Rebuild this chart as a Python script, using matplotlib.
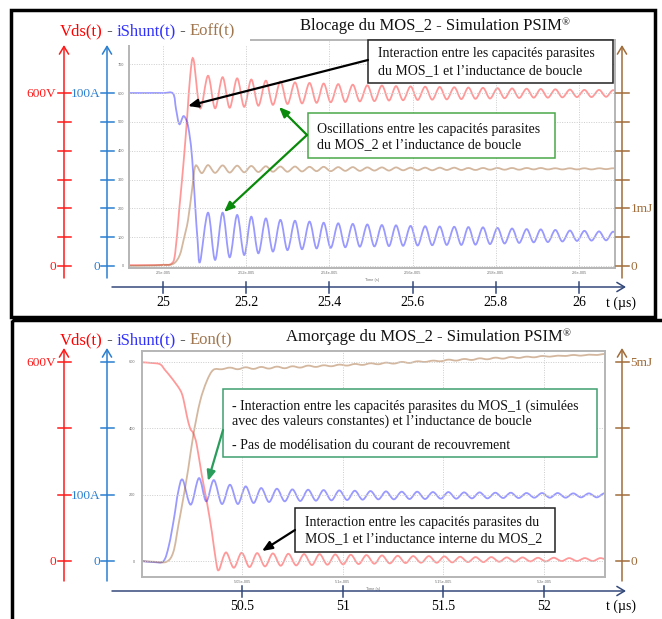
import numpy as np
import matplotlib.pyplot as plt
from matplotlib.path import Path
from matplotlib.patches import PathPatch, Rectangle

plt.rcParams['font.family'] = ['Liberation Serif', 'DejaVu Serif']

# ---------------- top panel : Blocage (t in us, PSIM units) ----------------
t_pk_top = [25.108, 25.143, 25.178, 25.212, 25.247, 25.282, 25.317, 25.352, 25.386, 25.421,
            25.456, 25.491, 25.526, 25.560, 25.595, 25.630, 25.665, 25.700, 25.734, 25.769,
            25.804, 25.839, 25.874, 25.908, 25.943, 25.978, 26.013, 26.048, 26.082]
t_tr_top = [25.125, 25.160, 25.195, 25.229, 25.264, 25.299, 25.334, 25.369, 25.403, 25.438,
            25.473, 25.508, 25.543, 25.577, 25.612, 25.647, 25.682, 25.717, 25.751, 25.786,
            25.821, 25.856, 25.891, 25.925, 25.960, 25.995, 26.030, 26.065, 26.099]

blue_top_t0 = [24.918, 24.960, 25.000, 25.024, 25.031, 25.039, 25.049, 25.058, 25.064, 25.070, 25.077, 25.083, 25.089]
blue_top_v0 = [600, 600, 600, 598, 545, 492, 520, 497, 450, 370, 213, 87, 15]
blue_top_pk = [185, 185, 177, 171, 165, 160, 157, 154, 150, 148, 146, 144, 142, 141, 139,
               138, 137, 136, 135, 134, 132, 130, 128, 127, 125, 123, 122, 120, 119]
blue_top_tr = [21, 30, 38, 44, 50, 55, 58, 61, 63, 65, 67, 68, 69, 70, 71,
               72, 73, 73, 74, 76, 78, 80, 82, 83, 85, 87, 88, 89, 90]

red_top_t0 = [24.918, 24.960, 25.000, 25.020, 25.029, 25.039, 25.049, 25.058, 25.065, 25.073, 25.089]
red_top_v0 = [3, 3, 4, 8, 44, 200, 356, 520, 657, 717, 547]
red_top_pk = [660, 655, 651, 647, 643, 640, 637, 635, 633, 631, 629, 627, 626, 624, 623,
              622, 621, 620, 619, 618, 617, 616, 615, 614, 613, 612, 611, 611, 610]
red_top_tr = [547, 549, 552, 556, 559, 562, 564, 566, 568, 569, 571, 572, 574, 575, 576,
              577, 578, 579, 580, 581, 582, 583, 584, 584, 585, 586, 586, 587, 587]

brown_top_t0 = [24.918, 24.960, 25.000, 25.025, 25.040, 25.050, 25.060, 25.070, 25.078, 25.093]
brown_top_v0 = [0, 1, 3, 8, 38, 95, 160, 270, 348, 322]
brown_top_pk = [350, 349, 348, 347, 346, 345, 345, 344, 344, 343, 343, 342, 342, 342, 341,
                341, 341, 341, 340, 340, 340, 340, 340, 340, 339, 339, 339, 339, 339]
brown_top_tr = [323, 324, 325, 326, 327, 327, 328, 329, 329, 330, 330, 331, 331, 332, 332,
                332, 333, 333, 333, 334, 334, 334, 335, 335, 335, 335, 335, 336, 336]

top_grid_t = [25.0, 25.2, 25.4, 25.6, 25.8, 26.0]
top_grid_lab = ['2.5e-005', '2.52e-005', '2.54e-005', '2.56e-005', '2.58e-005', '2.6e-005']
top_t_lab = ['25', '25.2', '25.4', '25.6', '25.8', '26']
top_grid_v = [0, 100, 200, 300, 400, 500, 600, 700]
top_v_ticks = [0, 100, 200, 300, 400, 500, 600]

# ---------------- bottom panel : Amorcage ----------------
t_pk_bot = [50.440, 50.518, 50.595, 50.673, 50.750, 50.828, 50.905, 50.983, 51.060, 51.138,
            51.215, 51.293, 51.370, 51.448, 51.525, 51.603, 51.680, 51.758, 51.835, 51.913,
            51.990, 52.068, 52.145, 52.223, 52.300]
t_tr_bot = [50.479, 50.557, 50.634, 50.712, 50.789, 50.867, 50.944, 51.022, 51.099, 51.177,
            51.254, 51.332, 51.409, 51.487, 51.564, 51.642, 51.719, 51.797, 51.874, 51.952,
            52.029, 52.107, 52.184, 52.262, 52.339]
t_pk_red_bot = [50.420, 50.498, 50.575, 50.653, 50.730, 50.808, 50.885, 50.963, 51.040, 51.118,
                51.195, 51.273, 51.350, 51.428, 51.505, 51.583, 51.660, 51.738, 51.815, 51.893,
                51.970, 52.048, 52.125, 52.203, 52.280]
t_tr_red_bot = [50.459, 50.537, 50.614, 50.692, 50.769, 50.847, 50.924, 51.002, 51.079, 51.157,
                51.234, 51.312, 51.389, 51.467, 51.544, 51.622, 51.699, 51.777, 51.854, 51.932,
                52.009, 52.087, 52.164, 52.242, 52.319]

red_bot_t0 = [50.003, 50.050, 50.093, 50.117, 50.151, 50.192, 50.208, 50.225, 50.242, 50.258,
              50.275, 50.300, 50.325, 50.350, 50.371, 50.385]
red_bot_v0 = [599, 597, 593, 576, 551, 516, 490, 440, 400, 385, 350, 259, 179, 88, -2, -27]
red_bot_pk = [26, 25, 24, 23, 22, 21, 21, 20, 19, 18, 17, 16, 15, 15, 14, 13, 12, 12, 11, 11, 10, 10, 9, 9, 9]
red_bot_tr = [-20, -18, -16, -14, -13, -12, -11, -10, -9, -8, -7, -6, -5, -5, -4, -3, -3, -2, -2, -1, -1, 0, 0, 0, 1]

blue_bot_t0 = [50.003, 50.060, 50.110, 50.137, 50.162, 50.183, 50.205, 50.245, 50.286, 50.322, 50.360, 50.400]
blue_bot_v0 = [0, -3, 0, 48, 129, 209, 245, 170, 250, 180, 244, 172]
blue_bot_pk = [230, 225, 220, 218, 216, 215, 214, 213, 212, 211, 210, 209, 209, 208, 208, 207, 207, 206, 206, 205, 205, 205, 204, 204, 204]
blue_bot_tr = [172, 175, 178, 180, 181, 182, 183, 184, 185, 186, 186, 187, 187, 188, 188, 189, 189, 190, 190, 191, 191, 191, 192, 192, 192]

brown_bot_t0 = [50.003, 50.060, 50.125, 50.159, 50.184, 50.208, 50.233, 50.258, 50.291, 50.324, 50.357, 50.400]
brown_bot_v0 = [0, -2, -2, 28, 109, 189, 279, 380, 480, 541, 576, 578]
brown_bot_pk = [583, 584, 585, 586, 587, 589, 590, 592, 594, 596, 598, 600, 602, 604, 607, 609, 611, 613, 615, 616, 618, 619, 621, 622, 624]
brown_bot_tr = [578, 579, 580, 581, 583, 585, 587, 589, 591, 593, 595, 597, 600, 602, 604, 606, 608, 610, 612, 614, 616, 618, 619, 621, 622]

bot_grid_t = [50.5, 51.0, 51.5, 52.0]
bot_grid_lab = ['5.05e-005', '5.1e-005', '5.15e-005', '5.2e-005']
bot_t_lab = ['50.5', '51', '51.5', '52']
bot_grid_v = [0, 200, 400, 600]

RED, BLUE, BROWN, TAX = '#ff1a1a', '#2b7fd0', '#a06c3a', '#34497a'

W, H = 662, 619
fig = plt.figure(figsize=(W / 100, H / 100), dpi=100)


def px_axes(x0, y0, x1, y1):
    return fig.add_axes([x0 / W, 1 - y1 / H, (x1 - x0) / W, (y1 - y0) / H])


def smooth(t, v):
    # Catmull-Rom through the read points, drawn as Bezier segments
    p = np.column_stack([t, v]).astype(float)
    q = np.vstack([p[0], p, p[-1]])
    verts, codes = [p[0]], [Path.MOVETO]
    for i in range(len(p) - 1):
        a, b, c, d = q[i], q[i + 1], q[i + 2], q[i + 3]
        verts += [b + (c - a) / 6, c - (d - b) / 6, c]
        codes += [Path.CURVE4] * 3
    return Path(verts, codes)


def knots(t0, v0, tp, vp, tt, vt):
    t = list(t0) + list(np.column_stack([tp, tt]).ravel())
    v = list(v0) + list(np.column_stack([vp, vt]).ravel())
    return t, v


def psim_axes(box, xlim, ylim, xt, xtl, yt, pady):
    ax = px_axes(*box)
    ax.set_xlim(xlim)
    ax.set_ylim(ylim)
    ax.set_xticks(xt, xtl)
    ax.set_yticks(yt, [str(v) for v in yt])
    ax.tick_params(length=0, labelsize=2.8, labelcolor='#707070')
    ax.tick_params(axis='x', pad=2.5)
    ax.tick_params(axis='y', pad=pady)
    for lab in ax.get_xticklabels() + ax.get_yticklabels():
        lab.set_family('Liberation Sans')
    ax.grid(True, color='#cccccc', lw=0.7, ls=(0, (1, 1.5)))
    for s in ax.spines.values():
        s.set_color('#b5b5b5')
        s.set_linewidth(1.4)
    ax.set_xlabel('Time (s)', fontsize=2.8, color='#707070', labelpad=1.5, family='Liberation Sans')
    return ax


def draw(ax, tv, color, alpha):
    ax.add_patch(PathPatch(smooth(*tv), fill=False, ec=color, alpha=alpha, lw=1.3))


ax_top = psim_axes((129, 40, 615, 268), (24.918, 26.0865), (-7, 784),
                   top_grid_t, top_grid_lab, top_grid_v, 3.5)
draw(ax_top, knots(red_top_t0, red_top_v0, t_pk_top, red_top_pk, t_tr_top, red_top_tr), '#ff0000', 0.4)
draw(ax_top, knots(blue_top_t0, blue_top_v0, t_pk_top, blue_top_pk, t_tr_top, blue_top_tr), '#0000ff', 0.4)
draw(ax_top, knots(brown_top_t0, brown_top_v0, t_pk_top, brown_top_pk, t_tr_top, brown_top_tr), '#a0602a', 0.45)

ax_bot = psim_axes((142, 351, 605, 577), (50.003, 52.303), (-48, 633),
                   bot_grid_t, bot_grid_lab, bot_grid_v, 5)
draw(ax_bot, knots(red_bot_t0, red_bot_v0, t_pk_red_bot, red_bot_pk, t_tr_red_bot, red_bot_tr), '#ff0000', 0.4)
draw(ax_bot, knots(blue_bot_t0, blue_bot_v0, t_pk_bot, blue_bot_pk, t_tr_bot, blue_bot_tr), '#0000ff', 0.4)
draw(ax_bot, knots(brown_bot_t0, brown_bot_v0, t_pk_bot, brown_bot_pk, t_tr_bot, brown_bot_tr), '#a0602a', 0.45)

# overlay in pixel coordinates for the hand-drawn parts
fg = fig.add_axes([0, 0, 1, 1])
fg.set_xlim(0, W)
fg.set_ylim(H, 0)
fg.axis('off')


def to_px(ax, x, y):
    X, Y = ax.transData.transform((x, y))
    return X, H - Y


def arrow(p0, p1, color, style, lw):
    fg.annotate('', xy=p1, xytext=p0,
                arrowprops=dict(arrowstyle=style, color=color, lw=lw, shrinkA=0, shrinkB=0))


AX_HEAD = '->,head_length=0.55,head_width=0.33'
PT_HEAD = '-|>,head_length=0.6,head_width=0.25'


def ext_axes(ax, tt, tl, vt, labs, y_time, y_lo, y_hi, y_lab):
    for x, col, lab, off in [(64, RED, labs[0], -8), (107, BLUE, labs[1], -6.5), (622, BROWN, labs[2], 8.5)]:
        arrow((x, y_lo), (x, y_hi), col, AX_HEAD, 1.1)
        for v in vt:
            py = to_px(ax, tt[0], v)[1]
            fg.plot([x - 6.5, x + 6.5], [py, py], color=col, lw=1.1)
        for v, s in lab.items():
            py = to_px(ax, tt[0], v)[1]
            fg.text(x + off, py + 1, s, color=col, fontsize=9.6,
                    ha='left' if off > 0 else 'right', va='center')
    arrow((112, y_time), (626, y_time), TAX, AX_HEAD, 1.1)
    for t, s in zip(tt, tl):
        px = to_px(ax, t, 0)[0]
        fg.plot([px, px], [y_time - 5.5, y_time + 5.5], color=TAX, lw=1.1)
        fg.text(px, y_lab, s, fontsize=10, ha='center', va='baseline')
    fg.text(606.5, y_lab, 't (µs)', fontsize=10, ha='left', va='baseline')


ext_axes(ax_top, top_grid_t, top_t_lab, top_v_ticks,
         [{600: '600V', 0: '0'}, {600: '100A', 0: '0'}, {200: '1mJ', 0: '0'}], 287, 278, 45, 306.5)
ext_axes(ax_bot, bot_grid_t, bot_t_lab, bot_grid_v,
         [{600: '600V', 0: '0'}, {200: '100A', 0: '0'}, {600: '5mJ', 0: '0'}], 591, 581, 348, 609.5)

# mask over the top-left of the upper PSIM frame, panel borders
fg.add_patch(Rectangle((122, 30), 128, 14.5, fc='white', ec='none'))
fg.add_patch(Rectangle((11, 9.5), 644, 307, fill=False, ec='black', lw=2.5))
fg.add_patch(Rectangle((11.5, 319.5), 670, 320, fill=False, ec='black', lw=2.5))


def title(x, y, parts, size=12):
    t = fg.text(x, y, parts[0][0], color=parts[0][1], fontsize=size, va='baseline')
    for s, c in parts[1:]:
        t = fg.annotate(s, xy=(1, 0), xycoords=t, color=c, fontsize=size, va='bottom')
    return t


DASH = '#333333'
title(60, 35, [('Vds(t)', '#ff0000'), (' - ', DASH), ('iShunt(t)', '#3030ff'), (' - ', DASH), ('Eoff(t)', '#a0764e')])
title(60, 344, [('Vds(t)', '#ff0000'), (' - ', DASH), ('iShunt(t)', '#3030ff'), (' - ', DASH), ('Eon(t)', '#a0764e')])
for x, y, s in [(300, 30, 'Blocage du MOS_2 - Simulation PSIM'), (286, 341, 'Amorçage du MOS_2 - Simulation PSIM')]:
    t = fg.text(x, y, s, fontsize=12, va='baseline', color='#111111')
    fg.annotate('®', xy=(1, 0.42), xycoords=t, fontsize=7.5, va='bottom', color='#111111')


def note(box, ec, lines):
    x0, y0, x1, y1 = box
    fg.add_patch(Rectangle((x0, y0), x1 - x0, y1 - y0, fc='white', ec=ec, lw=1.1, zorder=3))
    for x, y, s in lines:
        fg.text(x, y, s, fontsize=10, va='baseline', color='#111111', zorder=4)


note((368, 40, 613, 83), '#222222',
     [(378, 57.5, 'Interaction entre les capacités parasites'),
      (378, 74, 'du MOS_1 et l’inductance de boucle')])
arrow((368, 60), (188, 106), 'black', PT_HEAD, 1.6)

note((308, 113, 555, 158), '#4aa84a',
     [(317, 133, 'Oscillations entre les capacités parasites'),
      (317, 148.5, 'du MOS_2 et l’inductance de boucle')])
arrow((307, 135), (279, 107), '#0a8a0a', PT_HEAD, 1.6)
arrow((307, 135), (224, 212), '#0a8a0a', PT_HEAD, 1.6)

note((223, 389, 597, 457), '#3f9f6f',
     [(232, 410, '- Interaction entre les capacités parasites du MOS_1 (simulées'),
      (232, 425, 'avec des valeurs constantes) et l’inductance de boucle'),
      (232, 449, '- Pas de modélisation du courant de recouvrement')])
arrow((223, 430), (208, 481), '#2a9d5c', PT_HEAD, 1.6)

note((295, 508, 555, 552), '#222222',
     [(305, 526, 'Interaction entre les capacités parasites du'),
      (305, 542, 'MOS_1 et l’inductance interne du MOS_2')])
arrow((295, 530), (262, 551), 'black', PT_HEAD, 1.6)

fig.savefig('out.png', dpi=100)
